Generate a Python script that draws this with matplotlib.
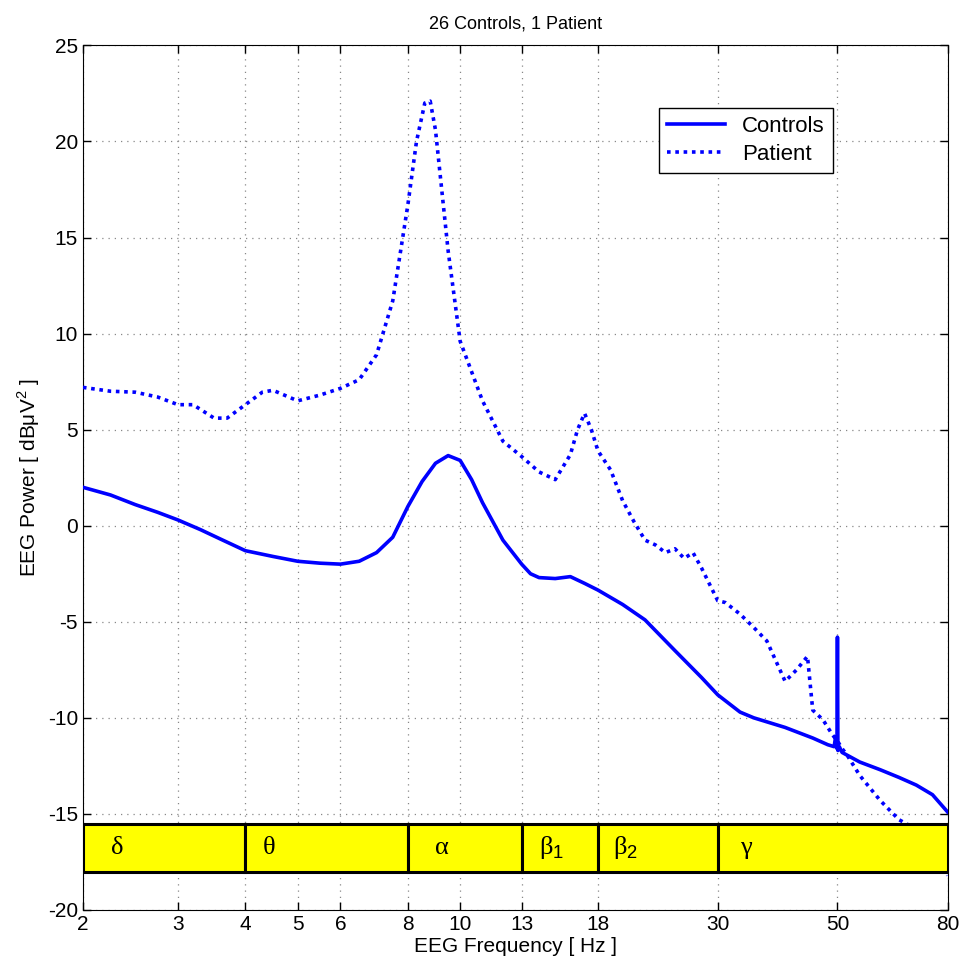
import numpy as np
import matplotlib.pyplot as plt
import matplotlib

matplotlib.rc("font", family="Liberation Sans", size=15)
matplotlib.rcParams["axes.unicode_minus"] = False
matplotlib.rcParams["mathtext.fontset"] = "custom"
matplotlib.rcParams["mathtext.rm"] = "Liberation Sans"

# Controls (solid) mean spectrum
ctrl_f = [2, 2.25, 2.5, 2.75, 3, 3.3, 3.6, 4, 4.5, 5, 5.5, 6, 6.5, 7, 7.5, 8,
          8.5, 9, 9.5, 10, 10.5, 11, 12, 13, 13.5, 14, 15, 16, 17, 18, 20, 22,
          25, 28, 30, 33, 35, 40, 45, 48, 49.3, 49.6, 49.9, 50, 50.1, 50.4,
          51, 55, 60, 65, 70, 75, 80]
ctrl_db = [2.0, 1.6, 1.1, 0.7, 0.3, -0.2, -0.7, -1.3, -1.6, -1.85, -1.95, -2.0,
           -1.85, -1.4, -0.6, 1.0, 2.3, 3.25, 3.65, 3.4, 2.4, 1.2, -0.75, -2.0,
           -2.5, -2.7, -2.75, -2.65, -3.0, -3.35, -4.1, -4.9, -6.5, -7.9, -8.8,
           -9.7, -10.0, -10.5, -11.05, -11.4, -11.5, -11.0, -11.6, -5.8, -11.7,
           -11.5, -11.8, -12.3, -12.7, -13.1, -13.5, -14.0, -14.9]

# Patient (dotted) spectrum
pat_f = [2, 2.25, 2.5, 2.75, 3, 3.2, 3.5, 3.7, 4, 4.3, 4.5, 5, 5.5, 6, 6.5, 7,
         7.5, 8, 8.3, 8.6, 8.8, 9, 9.5, 10, 11, 12, 13, 14, 15, 16, 16.5, 17,
         17.5, 18, 19, 20, 21, 22, 23, 24, 25, 26, 27, 28, 30, 31, 33, 35, 37,
         40, 42, 44, 45, 47, 49, 50, 51, 52, 55, 60, 65, 70, 75, 80]
pat_db = [7.2, 7.0, 6.95, 6.7, 6.3, 6.3, 5.6, 5.6, 6.3, 6.95, 7.05, 6.5, 6.8,
          7.15, 7.6, 8.9, 11.7, 16.7, 20.0, 22.0, 22.1, 20.6, 14.3, 9.6, 6.5,
          4.4, 3.6, 2.8, 2.4, 3.7, 5.0, 5.85, 5.0, 3.9, 2.9, 1.3, 0.2, -0.75,
          -1.0, -1.4, -1.2, -1.7, -1.4, -2.2, -3.9, -4.0, -4.6, -5.3, -6.0,
          -8.1, -7.5, -6.8, -9.6, -10.1, -10.9, -11.2, -11.6, -11.9, -13.0,
          -14.3, -15.3, -15.8, -16.9, -18.2]

# EEG bands
band_edges = [2, 4, 8, 13, 18, 30, 80]
band_names = ["δ", "θ", "α", "β$_1$", "β$_2$", "γ"]
band_label_f = [2.25, 4.3, 9.0, 14.0, 19.2, 33.0]

xticks = [2, 3, 4, 5, 6, 8, 10, 13, 18, 30, 50, 80]

fig = plt.figure(figsize=(9.64, 9.66), dpi=100)
ax = fig.add_axes([0.086, 0.058, 0.897, 0.895])

ax.plot(ctrl_f, ctrl_db, color="#0000ff", lw=2.6, label="Controls", zorder=3)
ax.plot(pat_f, pat_db, color="#0000ff", lw=2.6, linestyle=(0, (1, 1.3)),
        label="Patient", zorder=3)

for lo, hi, name, lf in zip(band_edges[:-1], band_edges[1:], band_names, band_label_f):
    ax.fill([lo, hi, hi, lo], [-18, -18, -15.5, -15.5], facecolor="#ffff00",
            edgecolor="black", linewidth=2.2, zorder=4)
    ax.text(lf, -16.75, name, family="Liberation Serif", fontsize=19,
            va="center", ha="left", zorder=5)

ax.set_xscale("log")
ax.set_xlim(2, 80)
ax.set_ylim(-20, 25)
ax.set_xticks(xticks)
ax.set_xticklabels([str(t) for t in xticks])
ax.minorticks_off()
ax.set_yticks(range(-20, 26, 5))
ax.tick_params(direction="in", top=True, right=True, length=6, width=1)
ax.grid(True, linestyle=(0, (1, 4)), color="#888888", linewidth=0.9)

ax.set_title("26 Controls, 1 Patient", fontsize=13, pad=12)
ax.set_xlabel("EEG Frequency [ Hz ]", fontsize=15, labelpad=2)
ax.set_ylabel("EEG Power [ dBμV$^2$ ]", fontsize=15, labelpad=4)

leg = ax.legend(loc="upper right", bbox_to_anchor=(0.88, 0.94), fancybox=False,
                framealpha=1, edgecolor="black", handlelength=2.6, fontsize=16,
                borderpad=0.35, labelspacing=0.3)
leg.get_frame().set_linewidth(1.0)

plt.savefig("out.png", dpi=100)
